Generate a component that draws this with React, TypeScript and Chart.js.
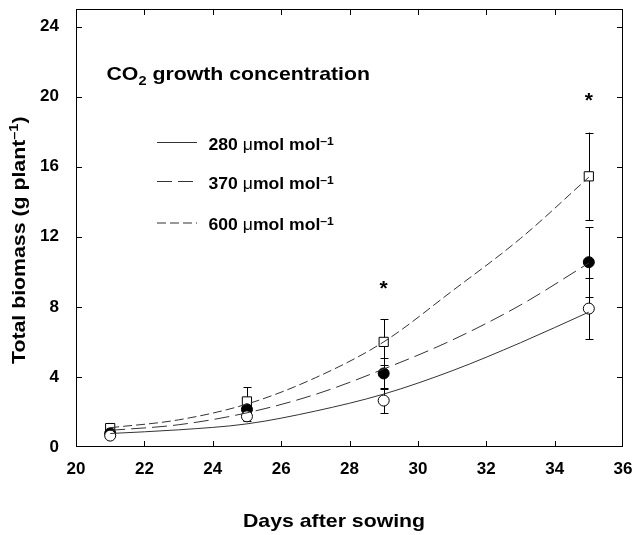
import React, { useEffect, useRef } from 'react';
import { Chart, registerables } from 'chart.js';

Chart.register(...registerables);

// ---- data ----
const curveDays = [21, 23, 25, 27, 29, 31, 33, 35];
const curve280 = [0.77, 0.98, 1.32, 2.05, 3.02, 4.35, 5.95, 7.7];
const curve370 = [0.95, 1.27, 1.95, 3.0, 4.45, 6.1, 8.1, 10.5];
const curve600 = [1.1, 1.55, 2.45, 3.95, 6.0, 8.9, 11.9, 15.4];

const sampleDays = [21, 25, 29, 35];
const mean280 = [0.65, 1.75, 2.65, 7.9];
const err280 = [0.12, 0.25, 0.72, 1.75];
const mean370 = [0.78, 2.15, 4.2, 10.55];
const err370 = [0.12, 0.4, 0.9, 2.0];
const mean600 = [1.08, 2.6, 6.0, 15.45];
const err600 = [0.15, 0.8, 1.3, 2.5];

const asteriskDays = [29, 35];
const asteriskValues = [9.34, 20.09];

const seriesNames = ['280', '370', '600'];
const xTitle = 'Days after sowing';
const yTitle = 'Total biomass (g plant';
const legendTitle = 'CO';

const FONT = '"Liberation Sans", Arial, Helvetica, sans-serif';
const SX = 1.12;

type Part = { t: string; size: number; bold?: boolean; dy?: number };

function drawRich(ctx: CanvasRenderingContext2D, x: number, y: number, parts: Part[], sx = SX) {
  ctx.save();
  ctx.translate(x, y);
  ctx.scale(sx, 1);
  ctx.textAlign = 'left';
  ctx.textBaseline = 'alphabetic';
  ctx.fillStyle = '#000';
  let cx = 0;
  for (const p of parts) {
    ctx.font = `${p.bold === false ? '' : 'bold '}${p.size}px ${FONT}`;
    ctx.fillText(p.t, cx, p.dy || 0);
    cx += ctx.measureText(p.t).width;
  }
  ctx.restore();
}

const toXY = (xs: number[], ys: number[]) => xs.map((x, i) => ({ x, y: ys[i] }));

const framePlugin = {
  id: 'frame',
  afterDatasetsDraw(chart: any) {
    const { ctx, chartArea: a, scales } = chart;
    ctx.save();
    ctx.strokeStyle = '#000';
    ctx.lineWidth = 1;
    ctx.setLineDash([]);
    ctx.strokeRect(a.left + 0.5, a.top + 0.5, a.right - a.left - 1, a.bottom - a.top - 1);
    const tl = 6;
    ctx.beginPath();
    for (const t of scales.x.ticks) {
      if (t.value <= scales.x.min || t.value >= scales.x.max) continue;
      const px = Math.round(scales.x.getPixelForValue(t.value)) + 0.5;
      ctx.moveTo(px, a.bottom);
      ctx.lineTo(px, a.bottom - tl);
      ctx.moveTo(px, a.top);
      ctx.lineTo(px, a.top + tl);
    }
    for (const t of scales.y.ticks) {
      if (t.value <= scales.y.min || t.value >= scales.y.max) continue;
      const py = Math.round(scales.y.getPixelForValue(t.value)) + 0.5;
      ctx.moveTo(a.left, py);
      ctx.lineTo(a.left + tl, py);
      ctx.moveTo(a.right, py);
      ctx.lineTo(a.right - tl, py);
    }
    ctx.stroke();
    ctx.restore();
  },
};

const errorPlugin = {
  id: 'errbars',
  beforeDatasetsDraw(chart: any) {
    const { ctx, scales } = chart;
    const sets = [
      [mean280, err280],
      [mean370, err370],
      [mean600, err600],
    ];
    ctx.save();
    ctx.strokeStyle = '#000';
    ctx.lineWidth = 1;
    ctx.setLineDash([]);
    ctx.beginPath();
    for (const [m, e] of sets) {
      sampleDays.forEach((d, i) => {
        const px = Math.round(scales.x.getPixelForValue(d)) + 0.5;
        const y1 = scales.y.getPixelForValue(m[i] + e[i]);
        const y2 = scales.y.getPixelForValue(m[i] - e[i]);
        ctx.moveTo(px, y1);
        ctx.lineTo(px, y2);
        ctx.moveTo(px - 4, Math.round(y1) + 0.5);
        ctx.lineTo(px + 4, Math.round(y1) + 0.5);
        ctx.moveTo(px - 4, Math.round(y2) + 0.5);
        ctx.lineTo(px + 4, Math.round(y2) + 0.5);
      });
    }
    ctx.stroke();
    ctx.restore();
  },
};

const dashes = [[], [15, 6], [9, 4]];

const textPlugin = {
  id: 'texts',
  afterDraw(chart: any) {
    const { ctx, scales } = chart;
    // legend title
    drawRich(ctx, 106.5, 80, [
      { t: legendTitle, size: 19 },
      { t: '2', size: 13, dy: 5 },
      { t: ' growth concentration', size: 19 },
    ]);
    // legend rows
    const rowY = [142.5, 181.5, 223];
    const baseY = [150, 189, 230];
    seriesNames.forEach((n, i) => {
      ctx.save();
      ctx.strokeStyle = '#333';
      ctx.lineWidth = 1;
      ctx.setLineDash(dashes[i]);
      ctx.beginPath();
      ctx.moveTo(157, rowY[i]);
      ctx.lineTo(197, rowY[i]);
      ctx.stroke();
      ctx.restore();
      drawRich(ctx, 208.5, baseY[i], [
        { t: n + ' ', size: 16 },
        { t: '\u03bc', size: 16, bold: false },
        { t: 'mol mol', size: 16 },
        { t: '\u20131', size: 11, dy: -5 },
      ], 1.1);
    });
    // asterisks
    asteriskDays.forEach((d, i) => {
      const px = scales.x.getPixelForValue(d);
      const py = scales.y.getPixelForValue(asteriskValues[i]);
      ctx.save();
      ctx.font = `bold 21px ${FONT}`;
      ctx.textAlign = 'center';
      ctx.textBaseline = 'alphabetic';
      ctx.fillStyle = '#000';
      ctx.fillText('*', px, py + 0.55 * 21);
      ctx.restore();
    });
    // x title
    drawRich(ctx, 243, 526.5, [{ t: xTitle, size: 19 }]);
    // y title (rotated)
    ctx.save();
    ctx.translate(25, 364);
    ctx.rotate(-Math.PI / 2);
    drawRich(ctx, 0, 0, [
      { t: yTitle, size: 19 },
      { t: '\u20131', size: 13, dy: -7 },
      { t: ')', size: 19 },
    ]);
    ctx.restore();
  },
};

export default function App() {
  const ref = useRef<HTMLCanvasElement>(null);
  useEffect(() => {
    document.body.style.margin = '0';
    const lineDs = (label: string, ys: number[], dash: number[]) => ({
      type: 'line' as const,
      label,
      data: toXY(curveDays, ys),
      borderColor: '#333',
      borderWidth: 1,
      borderDash: dash,
      pointRadius: 0,
      showLine: true,
      fill: false,
      cubicInterpolationMode: 'monotone' as const,
    });
    const markDs = (label: string, ys: number[], style: string, filled: boolean, r: number) => ({
      type: 'scatter' as const,
      label,
      data: toXY(sampleDays, ys),
      pointStyle: style,
      pointRadius: r,
      pointBackgroundColor: filled ? '#000' : '#fff',
      pointBorderColor: '#000',
      pointBorderWidth: 1,
      showLine: false,
    });
    const chart = new Chart(ref.current as HTMLCanvasElement, {
      type: 'scatter',
      data: {
        datasets: [
          lineDs('280 fit', curve280, dashes[0]),
          lineDs('370 fit', curve370, dashes[1]),
          lineDs('600 fit', curve600, dashes[2]),
          markDs('280', mean280, 'circle', false, 5.5),
          markDs('370', mean370, 'circle', true, 5.5),
          markDs('600', mean600, 'rect', false, 6.5),
        ] as any,
      },
      options: {
        animation: false,
        responsive: false,
        maintainAspectRatio: false,
        layout: { padding: { left: 0, top: 9, right: 9, bottom: 0 } },
        plugins: { legend: { display: false }, tooltip: { enabled: false } },
        scales: {
          x: {
            type: 'linear',
            min: 20,
            max: 36,
            ticks: {
              stepSize: 2,
              includeBounds: false,
              color: '#000',
              padding: 12,
              font: { family: FONT, size: 17, weight: 'bold' },
            },
            grid: { display: false, drawTicks: false },
            border: { display: false },
            afterFit: (s: any) => {
              s.height = 88;
              s.paddingLeft = 0;
              s.paddingRight = 0;
              s.paddingTop = 0;
              s.paddingBottom = 0;
            },
          },
          y: {
            type: 'linear',
            min: 0,
            max: 25,
            ticks: {
              stepSize: 4,
              includeBounds: false,
              color: '#000',
              padding: 17,
              font: { family: FONT, size: 17, weight: 'bold' },
            },
            grid: { display: false, drawTicks: false },
            border: { display: false },
            afterFit: (s: any) => {
              s.width = 76;
              s.paddingLeft = 0;
              s.paddingRight = 0;
              s.paddingTop = 0;
              s.paddingBottom = 0;
            },
          },
        },
      } as any,
      plugins: [errorPlugin, framePlugin, textPlugin],
    });
    return () => chart.destroy();
  }, []);
  return (
    <div style={{ position: 'absolute', left: 0, top: 0, width: 632, height: 535, background: '#fff' }}>
      <canvas ref={ref} width={632} height={535} style={{ display: 'block', width: 632, height: 535 }} />
    </div>
  );
}
